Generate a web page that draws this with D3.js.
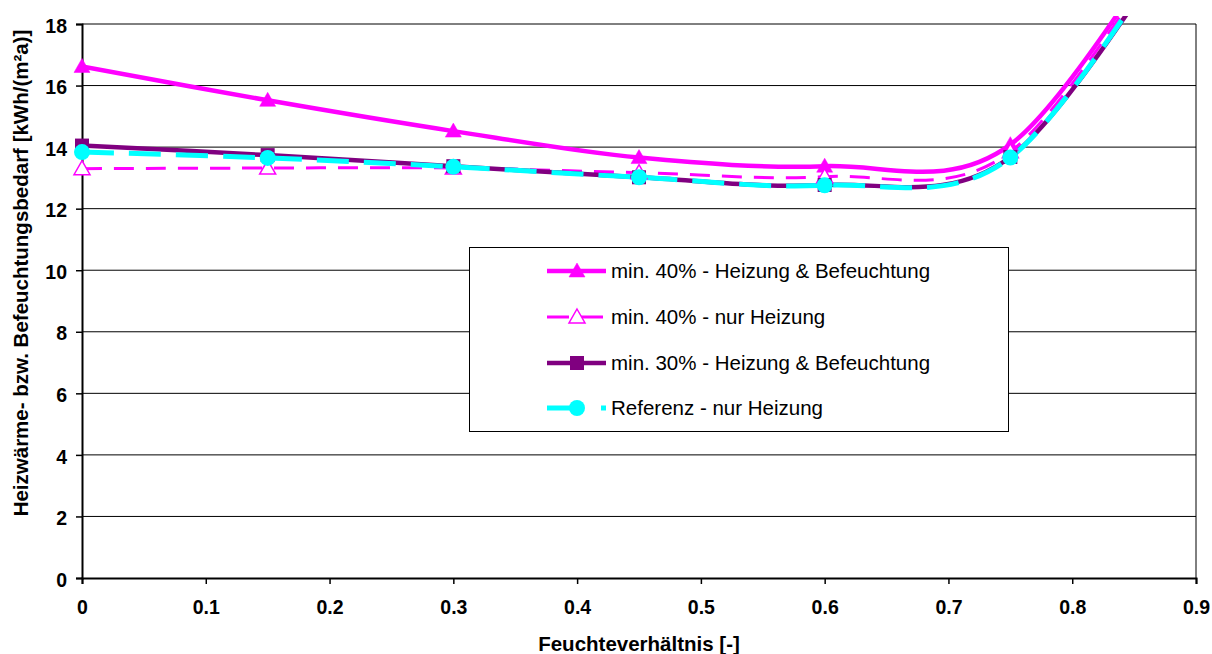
<!DOCTYPE html>
<html>
<head>
<meta charset="utf-8">
<script src="https://cdn.jsdelivr.net/npm/d3@7"></script>
<style>
  html, body { margin: 0; padding: 0; background: #fff; }
  svg { display: block; font-family: Arial, "Liberation Sans", sans-serif; }
</style>
</head>
<body>
<svg id="chart" width="1212" height="654"></svg>
<script>
// ---- data ----
const xValues = [0, 0.15, 0.3, 0.45, 0.6, 0.75, 0.9];
const seriesNames = [
  "min. 40% - Heizung & Befeuchtung",
  "min. 40% - nur Heizung",
  "min. 30% - Heizung & Befeuchtung",
  "Referenz - nur Heizung"
];
const min40HeizBef = [16.62, 15.52, 14.52, 13.66, 13.38, 14.08, 22.3];
const min40Heiz    = [13.30, 13.32, 13.32, 13.17, 13.04, 13.85, 22.1];
const min30HeizBef = [14.05, 13.74, 13.38, 13.02, 12.77, 13.68, 21.8];
const referenz     = [13.84, 13.65, 13.36, 13.02, 12.76, 13.66, 21.9];
const xTicks = [0, 0.1, 0.2, 0.3, 0.4, 0.5, 0.6, 0.7, 0.8, 0.9];
const yTicks = [0, 2, 4, 6, 8, 10, 12, 14, 16, 18];
const xTitle = "Feuchteverhältnis [-]";
const yTitle = "Heizwärme- bzw. Befeuchtungsbedarf [kWh/(m²a)]";

// ---- styles ----
const styles = [
  { color: "#FF00FF", width: 4.5, dash: null,    marker: "triFill" },
  { color: "#FF00FF", width: 3,   dash: "20,12", marker: "triOpen" },
  { color: "#800080", width: 4.5, dash: null,    marker: "square" },
  { color: "#00FFFF", width: 5,   dash: "32,15", marker: "circle" }
];
const seriesValues = [min40HeizBef, min40Heiz, min30HeizBef, referenz];

const svg = d3.select("#chart");
const L = 82, R = 1196, T = 24, B = 578;
const x = d3.scaleLinear().domain([0, 0.9]).range([L, R]);
const y = d3.scaleLinear().domain([0, 18]).range([B, T]);

// gridlines
svg.append("g").selectAll("line").data(yTicks.filter(d => d > 0)).join("line")
  .attr("x1", L).attr("x2", R).attr("y1", d => y(d)).attr("y2", d => y(d))
  .attr("stroke", "#000").attr("stroke-width", 1);
// right border
svg.append("line").attr("x1", R).attr("x2", R).attr("y1", T).attr("y2", B)
  .attr("stroke", "#000").attr("stroke-width", 1);

// axes
const yAxis = svg.append("g").attr("transform", `translate(${L},0)`)
  .call(d3.axisLeft(y).tickValues(yTicks).tickSize(6).tickPadding(9).tickFormat(d3.format("d")));
const xAxis = svg.append("g").attr("transform", `translate(0,${B})`)
  .call(d3.axisBottom(x).tickValues(xTicks).tickSize(6).tickPadding(16).tickFormat(d => d === 0 ? "0" : d3.format(".1f")(d)));
[yAxis, xAxis].forEach(g => {
  g.select(".domain").attr("stroke", "#000").attr("stroke-width", 2);
  g.selectAll(".tick line").attr("stroke", "#000").attr("stroke-width", 1.5);
  g.selectAll(".tick text").attr("fill", "#000").attr("font-size", 19.5)
    .attr("font-weight", "bold").attr("font-family", "Arial, 'Liberation Sans', sans-serif");
});
yAxis.selectAll(".tick text").attr("dy", "0.42em");

// titles
svg.append("text").attr("x", (L + R) / 2).attr("y", 651).attr("text-anchor", "middle")
  .attr("font-size", 20.5).attr("font-weight", "bold").text(xTitle);
svg.append("text").attr("transform", "translate(28,273) rotate(-90)").attr("text-anchor", "middle")
  .attr("font-size", 20.5).attr("font-weight", "bold").text(yTitle);

// clip
svg.append("defs").append("clipPath").attr("id", "clip")
  .append("rect").attr("x", L).attr("y", 16).attr("width", R - L).attr("height", B - 16);

const line = d3.line().x(d => x(d[0])).y(d => y(d[1])).curve(d3.curveCardinal.tension(0));
const plot = svg.append("g").attr("clip-path", "url(#clip)");

seriesValues.forEach((vals, i) => {
  const pts = xValues.map((xv, j) => [xv, vals[j]]);
  plot.append("path").datum(pts).attr("d", line)
    .attr("fill", "none").attr("stroke", styles[i].color)
    .attr("stroke-width", styles[i].width)
    .attr("stroke-dasharray", styles[i].dash)
    .attr("stroke-linejoin", "round");
});

function drawMarker(g, type, cx, cy, color) {
  if (type === "triFill" || type === "triOpen") {
    const p = [[cx, cy - 8], [cx + 8, cy + 6], [cx - 8, cy + 6]];
    g.append("path").attr("d", "M" + p.join("L") + "Z")
      .attr("fill", type === "triFill" ? color : "#fff")
      .attr("stroke", color).attr("stroke-width", type === "triFill" ? 0.5 : 1.5);
  } else if (type === "square") {
    g.append("rect").attr("x", cx - 7).attr("y", cy - 7).attr("width", 14).attr("height", 14)
      .attr("fill", color);
  } else {
    g.append("circle").attr("cx", cx).attr("cy", cy).attr("r", 8).attr("fill", color);
  }
}

seriesValues.forEach((vals, i) => {
  const g = svg.append("g");
  xValues.forEach((xv, j) => {
    if (vals[j] <= 18) drawMarker(g, styles[i].marker, x(xv), y(vals[j]), styles[i].color);
  });
});

// legend
const lg = svg.append("g");
lg.append("rect").attr("x", 469.5).attr("y", 247.5).attr("width", 539).attr("height", 184)
  .attr("fill", "#fff").attr("stroke", "#000").attr("stroke-width", 1);
const rowY = [271, 317, 363, 408];
seriesNames.forEach((name, i) => {
  const ry = rowY[i];
  lg.append("line").attr("x1", 547).attr("x2", 606).attr("y1", ry).attr("y2", ry)
    .attr("stroke", styles[i].color).attr("stroke-width", styles[i].width)
    .attr("stroke-dasharray", i === 1 ? "22,12" : (i === 3 ? "34,20" : null));
  drawMarker(lg, styles[i].marker, 577, ry, styles[i].color);
  lg.append("text").attr("x", 611).attr("y", ry).attr("dy", "0.36em")
    .attr("font-size", 20.5).attr("fill", "#000").text(name);
});
</script>
</body>
</html>
